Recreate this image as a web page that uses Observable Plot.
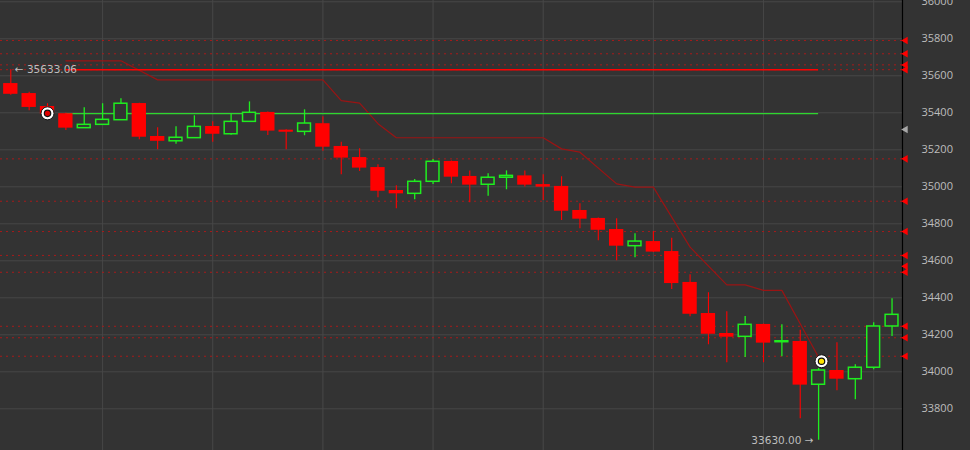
<!DOCTYPE html>
<html>
<head>
<meta charset="utf-8">
<script src="https://cdn.jsdelivr.net/npm/d3@7"></script>
<script src="https://cdn.jsdelivr.net/npm/@observablehq/plot@0.6"></script>
<style>
  html, body { margin: 0; padding: 0; background: #333333; }
  #chart svg { display: block; }
</style>
</head>
<body>
<div id="chart"></div>
<script>
// ---- candle data (index 0..48) ----
const opens  = [35558,35504,35434,35395,35317,35335,35360,35450,35272,35246,35263,35326,35284,35351,35402,35306,35297,35341,35218,35158,35104,34980,34962,35027,35137,35056,35011,35049,35059,35012,35002,34872,34829,34769,34679,34704,34650,34483,34315,34207,34189,34256,34160,34164,33930,34007,33960,34022,34245];
const highs  = [35633.06,35511,35449,35398,35427,35449,35476,35452,35319,35324,35384,35351,35396,35459,35404,35308,35416,35378,35241,35205,35119,35005,35039,35148,35139,35086,35070,35086,35086,35065,35054,34908,34831,34827,34746,34758,34722,34524,34427,34324,34299,34258,34254,34225,34018,34157,34038,34265,34395];
const lows   = [35495,35411,35380,35304,35315,35333,35358,35254,35200,35230,35261,35241,35279,35349,35277,35200,35276,35192,35065,35083,34941,34881,34930,35012,35016,34914,34949,34984,34999,34926,34818,34773,34708,34600,34616,34645,34445,34297,34146,34049,34077,34049,34081,33746,33630,33897,33849,34011,34191];
const closes = [35500,35429,35392,35317,35335,35362,35449,35268,35246,35265,35324,35284,35351,35400,35301,35295,35342,35214,35155,35101,34976,34962,35027,35135,35052,35009,35049,35059,35009,34998,34868,34825,34765,34679,34704,34647,34477,34311,34203,34187,34254,34155,34165,33928,34007,33960,34022,34245,34308];

// trailing stop line vertices (candle index, value)
const stopIdx = [3,6,8,17,18,19,20,21,29,30,31,33,34,35,37,39,40,41,42,44];
const stopVal = [35681,35681,35578,35578,35466,35452,35341,35265,35265,35205,35187,35016,34998,34998,34674,34470,34470,34440,34440,34079];

// horizontal dotted levels (with axis flags)
const dottedLevels = [35791,35719,35659,35633,35151,34922,34758,34629,34538,34246,34184,34084];
const flagLevels   = [35791,35719,35659,35633,35151,34922,34758,34629,34571,34538,34246,34184,34084];
const greyFlag     = [35310];

// solid level segments
const segValues = [35633.06, 35395];
const segFrom   = [3, 3];
const segTo     = [44, 44];
const segKinds  = ["resistance", "entry"];

// markers
const markerIdx = [2, 44.16];
const markerVal = [35397, 34057];
const markerKinds = ["sell", "buy"];

// annotations
const noteIdx  = [0, 44];
const noteVal  = [35633.06, 33630];
const noteText = ["\u2190 35633.06", "33630.00 \u2192"];

// axis
const yTicks = [33800,34000,34200,34400,34600,34800,35000,35200,35400,35600,35800,36000];
const xGrid  = [5,11,17,23,29,35,41,47];

// ---- build tables ----
const candles = opens.map((o, i) => ({i, open: o, high: highs[i], low: lows[i], close: closes[i], up: closes[i] >= o}));
const stopLine = stopIdx.map((x, k) => ({x, y: stopVal[k]}));
const segments = segValues.map((v, k) => ({y: v, x1: segFrom[k], x2: segTo[k], kind: segKinds[k]}));
const markers = markerIdx.map((x, k) => ({x, y: markerVal[k], kind: markerKinds[k]}));
const notes = noteIdx.map((x, k) => ({x, y: noteVal[k], text: noteText[k], side: k === 0 ? "start" : "end"}));

const BG = "#333333", RED = "#ff0000", GREEN = "#1fee1f";
const xDomain = [-0.561, 48.57];
const half = 0.39;

const chart = Plot.plot({
  width: 970,
  height: 450,
  marginLeft: 0,
  marginRight: 68,
  marginTop: 0,
  marginBottom: 0,
  style: {background: BG, color: "#bdbdbd", fontFamily: "'Open Sans', sans-serif", fontSize: "11px"},
  x: {domain: xDomain, axis: null},
  y: {domain: [33574.6, 36007], axis: "right", ticks: yTicks, tickSize: 0, tickPadding: 19, tickFormat: d => String(d), label: null},
  marks: [
    Plot.gridY(yTicks, {stroke: "#474747", strokeOpacity: 1}),
    Plot.gridX(xGrid, {stroke: "#474747", strokeOpacity: 1}),
    Plot.ruleY(dottedLevels, {stroke: "#a81a1a", strokeWidth: 1, strokeDasharray: "2,4"}),
    Plot.line(stopLine, {x: "x", y: "y", stroke: "#9a1414", strokeWidth: 1.2}),
    Plot.ruleY(segments, {y: "y", x1: "x1", x2: "x2", stroke: d => d.kind === "resistance" ? RED : "#2fd62f", strokeWidth: d => d.kind === "resistance" ? 1.6 : 1.3}),
    // wicks
    Plot.ruleX(candles, {x: "i", y1: "low", y2: "high", stroke: d => d.up ? GREEN : RED, strokeWidth: d => d.up ? 1.3 : 1.1}),
    // bodies
    Plot.rect(candles.filter(d => !d.up), {x1: d => d.i - half, x2: d => d.i + half, y1: "open", y2: "close", fill: RED}),
    Plot.rect(candles.filter(d => d.up), {x1: d => d.i - half + 0.04, x2: d => d.i + half - 0.04, y1: "open", y2: "close", fill: BG, stroke: GREEN, strokeWidth: 1.5}),
    // axis line + flags
    Plot.ruleX([xDomain[1]], {stroke: "#000000", strokeWidth: 1.2}),
    Plot.dot(flagLevels, {x: () => xDomain[1], y: d => d, symbol: "triangle", rotate: -90, r: 2.8, fill: RED, dx: 3}),
    Plot.dot(greyFlag, {x: () => xDomain[1], y: d => d, symbol: "triangle", rotate: -90, r: 2.8, fill: "#a8a8a8", dx: 3}),
    // markers
    Plot.dot(markers, {x: "x", y: "y", r: 6.5, fill: "#ffffff", stroke: "#111111", strokeWidth: 1}),
    Plot.dot(markers, {x: "x", y: "y", r: 3.2, fill: d => d.kind === "sell" ? "#e00000" : "#ffe400", stroke: "#111111", strokeWidth: 1.2}),
    // annotations
    Plot.text(notes.filter(d => d.side === "start"), {x: "x", y: "y", text: "text", textAnchor: "start", dx: 4, fill: "#bdbdbd", fontSize: 10.5, fontFamily: "'DejaVu Sans', sans-serif"}),
    Plot.text(notes.filter(d => d.side === "end"), {x: "x", y: "y", text: "text", textAnchor: "end", dx: -5, fill: "#bdbdbd", fontSize: 10.5, fontFamily: "'DejaVu Sans', sans-serif"})
  ]
});
document.getElementById("chart").appendChild(chart);
</script>
</body>
</html>
